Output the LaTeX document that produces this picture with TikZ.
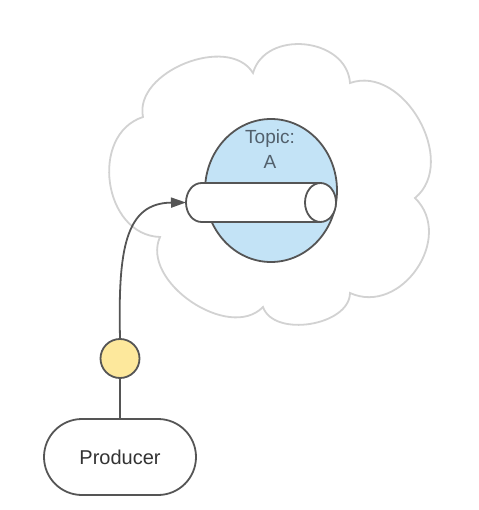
\documentclass[tikz,border=0pt]{standalone}
\usepackage{fontspec}
\setmainfont{Liberation Sans}
\usetikzlibrary{shapes.geometric,shapes.misc,arrows.meta}
\definecolor{edge}{HTML}{555555}
\definecolor{cloudgray}{HTML}{D2D2D2}
\definecolor{topicblue}{HTML}{C3E3F6}
\definecolor{msgyellow}{HTML}{FDE89C}
\definecolor{topictext}{HTML}{52606C}
\definecolor{prodtext}{HTML}{333333}
\tikzset{
  outline/.style={draw=edge, line width=1.8pt},
  cloudline/.style={draw=cloudgray, line width=1.8pt},
}
\begin{document}
\begin{tikzpicture}[x=1pt,y=-1pt]
\useasboundingbox (0,0) rectangle (478,510);
% cloud
\coordinate (v1) at (143,117);
\coordinate (v2) at (253,73);
\coordinate (v3) at (350,83);
\coordinate (v4) at (415,198);
\coordinate (v5) at (350,293);
\coordinate (v6) at (263,307);
\coordinate (v7) at (160,237);
\draw[cloudline, fill=white]
  (v1) to[bend left=80, looseness=1.0] (v2)
       to[bend left=80, looseness=1.2] (v3)
       to[bend left=80, looseness=1.1] (v4)
       to[bend left=80, looseness=1.25] (v5)
       to[bend left=80, looseness=0.95] (v6)
       to[bend left=80, looseness=1.0] (v7)
       to[bend left=80, looseness=1.2] (v1) -- cycle;
% topic ellipse
\node[ellipse, outline, fill=topicblue, minimum width=132pt, minimum height=143pt, inner sep=0pt] (topic) at (271,190.5) {};
\node[text=topictext, font=\fontsize{19}{24.5}\selectfont, align=center, inner sep=0pt] (topiclabel) at (270,149) {Topic:\\A};
% cylinder (partition)
\coordinate (cylW) at (186,202.5);
\draw[outline, fill=white] (201.5,183) -- (320.5,183) -- (320.5,222) -- (201.5,222)
  arc[start angle=270, end angle=90, x radius=15.5pt, y radius=19.5pt] -- cycle;
\node[ellipse, outline, fill=white, minimum width=31pt, minimum height=39pt, inner sep=0pt] (cylE) at (320.5,202.5) {};
% producer
\node[rounded rectangle, outline, fill=white, minimum width=152pt, minimum height=76pt, inner sep=0pt, text=prodtext, font=\fontsize{20}{24}\selectfont] (producer) at (120,457) {Producer};
% message circle
\node[circle, outline, fill=msgyellow, minimum size=39pt, inner sep=0pt] (msg) at (120,358.5) {};
\draw[edge, line width=1.8pt] (msg) -- (producer);
\draw[edge, line width=1.8pt, -{Triangle[length=15pt,width=10pt]}]
  (msg.north) .. controls (118,250) and (125,203) .. (cylW);
\end{tikzpicture}
\end{document}
